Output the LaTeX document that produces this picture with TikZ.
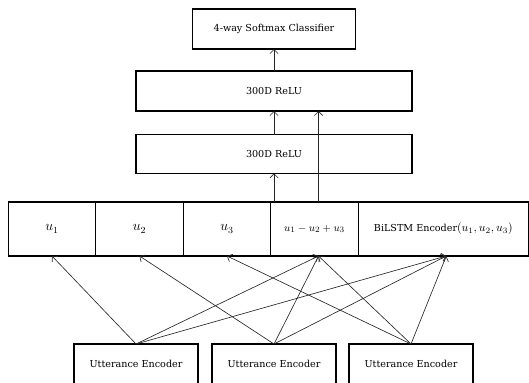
\documentclass[tikz,border=0pt]{standalone}
\usepackage{fontspec}
\setmainfont{DejaVu Serif}
\usetikzlibrary{positioning,arrows.meta}
\begin{document}
\begin{tikzpicture}[x=0.03cm, y=-0.03cm,
    layer/.style={draw, line width=1.1pt, inner sep=0pt, outer sep=0pt,
      font=\fontsize{8.2}{10}\selectfont},
    cell/.style={layer, minimum width=2.625cm, minimum height=1.62cm},
    encbox/.style={layer, minimum width=3.72cm, minimum height=1.2cm},
    link/.style={-{Straight Barb[length=3.5pt,width=7pt]}, line width=0.55pt, black!85}]
    \useasboundingbox (0,0) rectangle (529,382);
    \clip (0,0) rectangle (529,382);

    % Classifier and the two dense layers
    \node[layer, minimum width=4.89cm, minimum height=1.2cm] (cls) at (274,29) {4-way Softmax Classifier};
    \node[layer, minimum width=8.28cm, minimum height=1.2cm] (relu2) at (274,91) {300D ReLU};
    \node[layer, minimum width=8.28cm, minimum height=1.16cm] (relu1) at (274,154) {300D ReLU};

    % Row of features
    \node[cell] (u1) at (52,229) {\large$u_1$};
    \node[cell, right=0pt of u1] (u2) {\large$u_2$};
    \node[cell, right=0pt of u2] (u3) {\large$u_3$};
    \node[cell, right=0pt of u3, font=\fontsize{9.5}{11}\selectfont] (comb) {$u_1-u_2+u_3$};
    \node[layer, minimum width=5.1cm, minimum height=1.62cm, right=0pt of comb] (bilstm)
      {BiLSTM Encoder{\fontsize{10}{12}\selectfont$(u_1,u_2,u_3)$}};

    % Utterance encoders
    \node[encbox] (enc1) at (136,364) {Utterance Encoder};
    \node[encbox] (enc2) at (274,364) {Utterance Encoder};
    \node[encbox] (enc3) at (411,364) {Utterance Encoder};

    \coordinate (mix) at ([xshift=0.12cm]comb.south);
    \coordinate (bi) at ([xshift=0.09cm]bilstm.south);

    % Encoders into the feature row
    \draw[link] (enc1.north) -- (u1.south);
    \draw[link] (enc1.north) -- (mix);
    \draw[link] (enc1.north) -- (bi);
    \draw[link] (enc2.north) -- (u2.south);
    \draw[link] (enc2.north) -- (mix);
    \draw[link] (enc2.north) -- (bi);
    \draw[link] (enc3.north) -- (u3.south);
    \draw[link] (enc3.north) -- (mix);
    \draw[link] (enc3.north) -- (bi);

    % Feature row up to the classifier
    \draw[link] (relu1.south |- comb.north) -- (relu1.south);
    \draw[link] (mix |- comb.north) -- (mix |- relu2.south);
    \draw[link] (relu1.north) -- (relu2.south);
    \draw[link] (relu2.north) -- (cls.south);
\end{tikzpicture}
\end{document}
